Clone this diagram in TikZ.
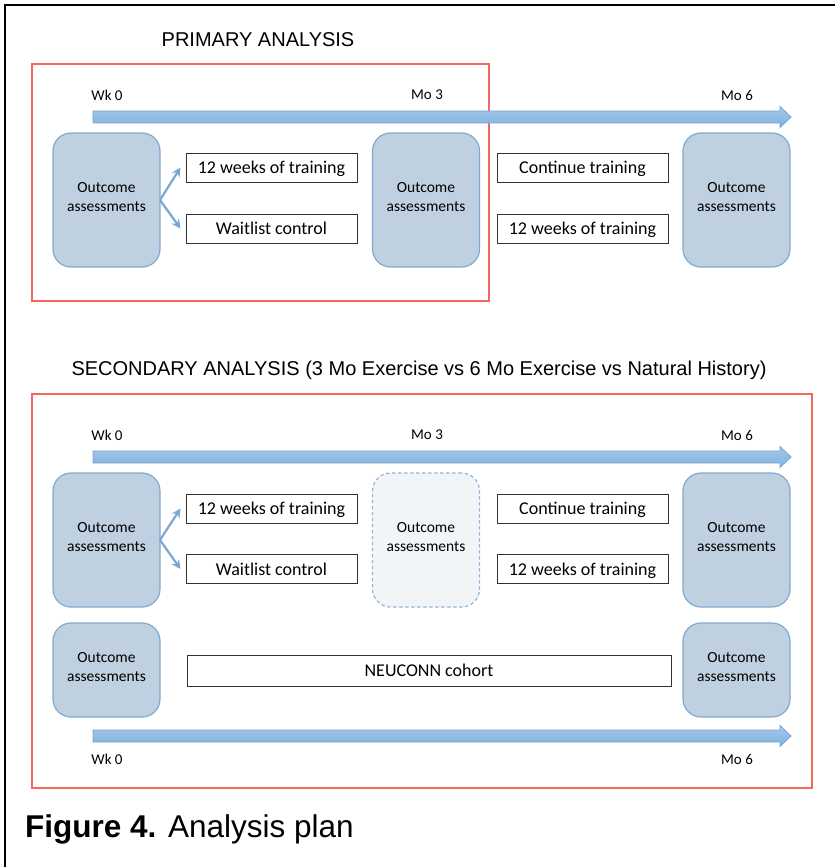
\documentclass[tikz,border=0pt]{standalone}
\usepackage{fontspec}
\setmainfont{Liberation Sans}
\newfontfamily\calibri{Carlito}
\usetikzlibrary{calc,arrows.meta}

\definecolor{ofill}{RGB}{191,208,224}
\definecolor{oline}{RGB}{128,170,210}
\definecolor{dfill}{RGB}{242,245,248}
\definecolor{tlline}{RGB}{118,165,210}
\definecolor{tltop}{RGB}{164,200,234}
\definecolor{tlbot}{RGB}{128,178,222}
\definecolor{frame}{RGB}{242,104,92}
\definecolor{branch}{RGB}{122,168,210}

\tikzset{
  outcome/.style={draw=oline, fill=ofill, line width=1.2pt, rounded corners=18pt,
    minimum width=107pt, minimum height=134pt, align=center, inner sep=0pt,
    text depth=6pt, font=\calibri\fontsize{15.5}{19.5}\selectfont},
  outcomeshort/.style={outcome, minimum height=94pt},
  skipped/.style={outcome, fill=dfill, draw=oline!85, dash pattern=on 3.5pt off 2.5pt},
  plan/.style={draw=black!80, fill=white, line width=1pt, minimum width=171pt,
    minimum height=29pt, inner sep=0pt, text depth=0pt,
    font=\calibri\fontsize{18}{21}\selectfont},
  tick/.style={font=\calibri\fontsize{15}{18}\selectfont},
  heading/.style={font=\fontsize{20}{24}\selectfont},
  analysis/.style={draw=frame, line width=1.8pt},
  branch/.style={draw=branch, line width=2.2pt, -{Stealth[length=9pt,width=9pt]}},
  timeline/.style={top color=tltop, bottom color=tlbot, draw=tlline, line width=0.8pt}
}

% timeline arrow between two named coordinates
\newcommand{\timeline}[2]{%
  \path[timeline] ($(#1)+(0,-6)$) -- ($(#2)+(-11,-6)$) -- ($(#2)+(-11,-10.5)$)
    -- (#2) -- ($(#2)+(-11,10.5)$) -- ($(#2)+(-11,6)$) -- ($(#1)+(0,6)$) -- cycle;}

\begin{document}
\begin{tikzpicture}[x=1pt,y=-1pt]
\useasboundingbox (0,0) rectangle (835,867);

% page frame
\draw[line width=2pt] (5,867) -- (5,5) -- (835,5);

% ---------------- primary analysis ----------------
\node[heading] (ptitle) at (258,40) {PRIMARY ANALYSIS};
\draw[analysis] (32,64) rectangle (489,301);

\coordinate (pts) at (93,117);
\coordinate (pte) at (791,117);
\timeline{pts}{pte}
\node[tick] (pwk0) at (107,95) {Wk 0};
\node[tick] (pmo3) at (427,95) {Mo 3};
\node[tick] (pmo6) at (737,95) {Mo 6};

\node[outcome] (po1) at (106.5,200) {Outcome\\assessments};
\node[outcome] (po2) at (426,200) {Outcome\\assessments};
\node[outcome] (po3) at (736.5,200) {Outcome\\assessments};

\node[plan] (ptrain) at (271.5,167.5) {12 weeks of training};
\node[plan] (pwait) at (271.5,228.5) {Waitlist control};
\node[plan] (pcont) at (582.5,167.5) {Continue training};
\node[plan] (ptrain2) at (582.5,228.5) {12 weeks of training};

\coordinate (pfork) at (160,200);
\draw[branch] (pfork) -- ($(ptrain.west)+(-5,0)$);
\draw[branch] (pfork) -- ($(pwait.west)+(-5,0)$);

% ---------------- secondary analysis ----------------
\node[heading] (stitle) at (419,370) {SECONDARY ANALYSIS (3 Mo Exercise vs 6 Mo Exercise vs Natural History)};
\draw[analysis] (32,394) rectangle (812,788);

\coordinate (sts) at (93,457);
\coordinate (ste) at (791,457);
\timeline{sts}{ste}
\node[tick] (swk0) at (107,435) {Wk 0};
\node[tick] (smo3) at (427,435) {Mo 3};
\node[tick] (smo6) at (737,435) {Mo 6};

\node[outcome] (so1) at (106.5,540) {Outcome\\assessments};
\node[skipped] (so2) at (426,540) {Outcome\\assessments};
\node[outcome] (so3) at (736.5,540) {Outcome\\assessments};

\node[plan] (strain) at (271.5,508.5) {12 weeks of training};
\node[plan] (swait) at (271.5,569) {Waitlist control};
\node[plan] (scont) at (582.5,508.5) {Continue training};
\node[plan] (strain2) at (582.5,569) {12 weeks of training};

\coordinate (sfork) at (160,540);
\draw[branch] (sfork) -- ($(strain.west)+(-5,0)$);
\draw[branch] (sfork) -- ($(swait.west)+(-5,0)$);

% natural history row
\node[outcomeshort] (no1) at (106.5,670) {Outcome\\assessments};
\node[outcomeshort] (no2) at (736.5,670) {Outcome\\assessments};
\node[plan, minimum width=484pt, minimum height=31pt] (cohort) at (429,670.5) {NEUCONN cohort};

\coordinate (nts) at (93,736);
\coordinate (nte) at (791,736);
\timeline{nts}{nte}
\node[tick] (nwk0) at (107,759) {Wk 0};
\node[tick] (nmo6) at (737,759) {Mo 6};

% caption
\node[anchor=base west, inner sep=0pt, font=\fontsize{31.5}{36}\selectfont] (caption) at (25,837)
  {\textbf{Figure 4.} Analysis plan};
\end{tikzpicture}
\end{document}
